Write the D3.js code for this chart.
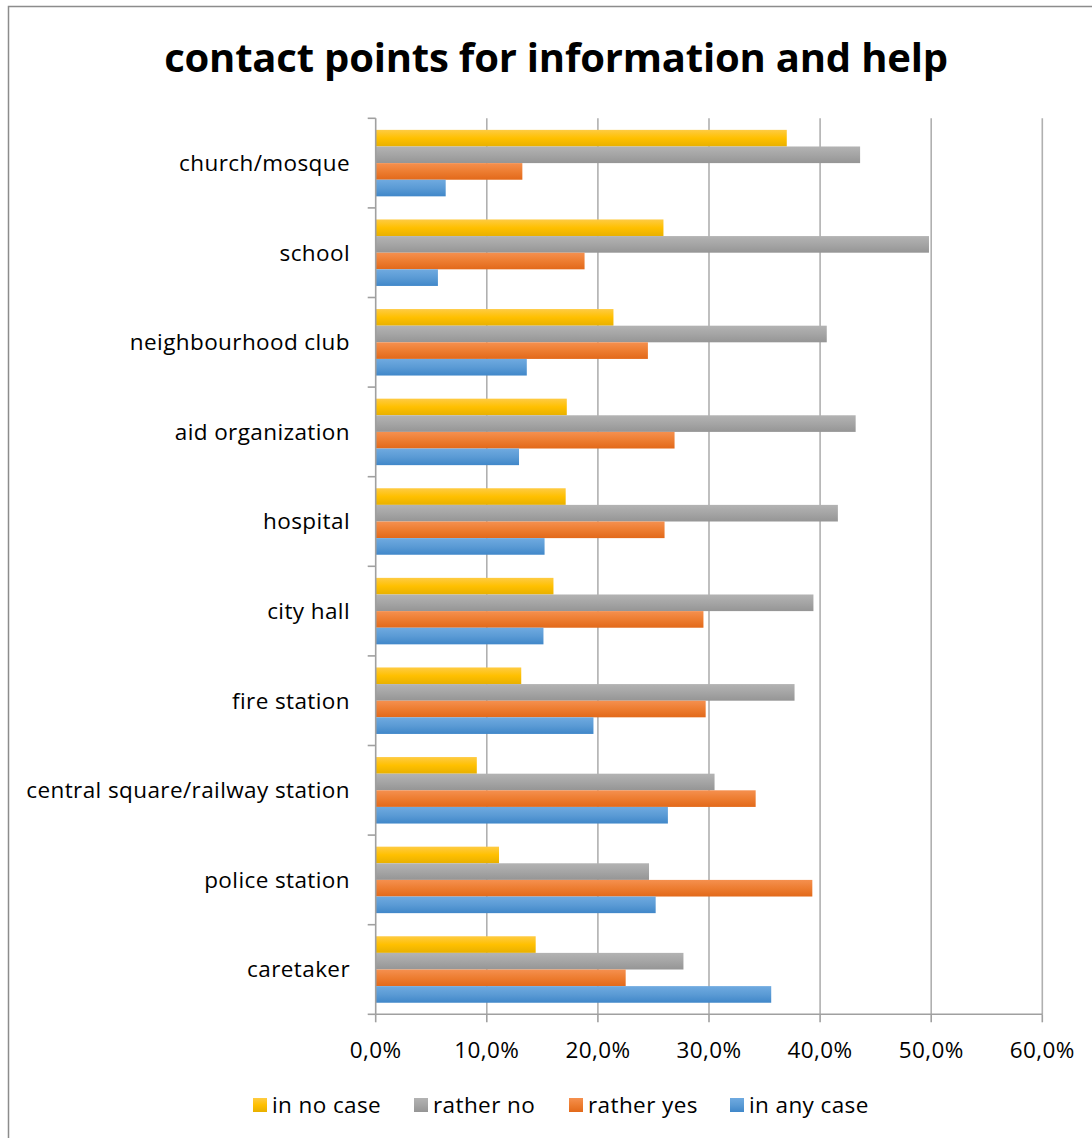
<!DOCTYPE html>
<html>
<head>
<meta charset="utf-8">
<script src="https://cdn.jsdelivr.net/npm/d3@7"></script>
<style>
  html, body { margin: 0; padding: 0; background: #fff; }
  svg { display: block; }
  text { font-family: "Open Sans", sans-serif; fill: #000; }
</style>
</head>
<body>
<svg id="chart" width="1092" height="1138"></svg>
<script>
// ---------- data ----------
const categories = [
  "church/mosque", "school", "neighbourhood club", "aid organization", "hospital",
  "city hall", "fire station", "central square/railway station", "police station", "caretaker"
];
const seriesNames = ["in no case", "rather no", "rather yes", "in any case"];
const inNoCase   = [0.370, 0.259, 0.214, 0.172, 0.171, 0.160, 0.131, 0.091, 0.111, 0.144];
const ratherNo   = [0.436, 0.498, 0.406, 0.432, 0.416, 0.394, 0.377, 0.305, 0.246, 0.277];
const ratherYes  = [0.132, 0.188, 0.245, 0.269, 0.260, 0.295, 0.297, 0.342, 0.393, 0.225];
const inAnyCase  = [0.063, 0.056, 0.136, 0.129, 0.152, 0.151, 0.196, 0.263, 0.252, 0.356];
const xTicks = [0, 0.1, 0.2, 0.3, 0.4, 0.5, 0.6];
const title = "contact points for information and help";

const seriesValues = [inNoCase, ratherNo, ratherYes, inAnyCase];
const seriesColors = [
  ["#FECB43", "#FFC000", "#E8B000"],
  ["#B3B3B3", "#A5A5A5", "#959595"],
  ["#F5904F", "#ED7D31", "#E2691A"],
  ["#6FAAE0", "#5B9BD5", "#4087C9"]
];

// ---------- layout ----------
const svg = d3.select("#chart");
const W = 1092, H = 1138;
const plot = { left: 375.7, right: 1042.3, top: 118.3, bottom: 1014.3 };
const labelSize = 22.5, labelSpacing = 0.4;

// chart border (left & top visible)
svg.append("rect")
  .attr("x", 8.5).attr("y", 6.5)
  .attr("width", W + 20).attr("height", H + 20)
  .attr("fill", "#fff").attr("stroke", "#8c8c8c").attr("stroke-width", 1.5);

// gradients
const defs = svg.append("defs");
seriesColors.forEach((c, i) => {
  const g = defs.append("linearGradient").attr("id", "grad" + i)
    .attr("x1", 0).attr("y1", 0).attr("x2", 0).attr("y2", 1);
  g.append("stop").attr("offset", "0%").attr("stop-color", c[0]);
  g.append("stop").attr("offset", "50%").attr("stop-color", c[1]);
  g.append("stop").attr("offset", "100%").attr("stop-color", c[2]);
});

const x = d3.scaleLinear().domain([0, 0.6]).range([plot.left, plot.right]);
const y = d3.scaleBand().domain(categories).range([plot.top, plot.bottom])
  .paddingInner(0.258).paddingOuter(0.129);
const ySub = d3.scaleBand().domain(seriesNames).range([0, y.bandwidth()]).padding(0);

// gridlines
svg.append("g").selectAll("line").data(xTicks.slice(1)).join("line")
  .attr("x1", d => x(d)).attr("x2", d => x(d))
  .attr("y1", plot.top).attr("y2", plot.bottom)
  .attr("stroke", "#b0b0b0").attr("stroke-width", 1.6);

// bars
const rows = [];
categories.forEach((cat, ci) => {
  seriesNames.forEach((s, si) => rows.push({ cat, s, si, v: seriesValues[si][ci] }));
});
svg.append("g").selectAll("rect").data(rows).join("rect")
  .attr("x", x(0))
  .attr("y", d => y(d.cat) + ySub(d.s))
  .attr("width", d => x(d.v) - x(0))
  .attr("height", ySub.bandwidth())
  .attr("fill", d => `url(#grad${d.si})`);

// y axis
const yAxisG = svg.append("g");
yAxisG.append("line")
  .attr("x1", x(0)).attr("x2", x(0)).attr("y1", plot.top).attr("y2", plot.bottom)
  .attr("stroke", "#a0a0a0").attr("stroke-width", 1.6);
const step = y.step();
const boundaries = d3.range(categories.length + 1).map(i => plot.top + i * step);
yAxisG.selectAll("line.tick").data(boundaries).join("line").attr("class", "tick")
  .attr("x1", x(0) - 8).attr("x2", x(0)).attr("y1", d => d).attr("y2", d => d)
  .attr("stroke", "#a0a0a0").attr("stroke-width", 1.6);
yAxisG.selectAll("text").data(categories).join("text")
  .attr("x", 350).attr("y", d => y(d) + y.bandwidth() / 2)
  .attr("dy", "0.35em").attr("text-anchor", "end")
  .attr("font-size", labelSize).attr("letter-spacing", labelSpacing).text(d => d);

// x axis
const fmt = d => d3.format(".1f")(d * 100).replace(".", ",") + "%";
const xAxisG = svg.append("g");
xAxisG.append("line")
  .attr("x1", plot.left).attr("x2", plot.right).attr("y1", plot.bottom).attr("y2", plot.bottom)
  .attr("stroke", "#a0a0a0").attr("stroke-width", 1.6);
xAxisG.selectAll("line.tick").data(xTicks).join("line").attr("class", "tick")
  .attr("x1", d => x(d)).attr("x2", d => x(d)).attr("y1", plot.bottom).attr("y2", plot.bottom + 8)
  .attr("stroke", "#a0a0a0").attr("stroke-width", 1.6);
xAxisG.selectAll("text").data(xTicks).join("text")
  .attr("x", d => x(d)).attr("y", 1050).attr("dy", "0.35em")
  .attr("text-anchor", "middle").attr("font-size", labelSize).attr("letter-spacing", labelSpacing)
  .text(fmt);

// title
svg.append("text").attr("x", 556).attr("y", 58).attr("dy", "0.35em")
  .attr("text-anchor", "middle").attr("font-size", 40).attr("font-weight", "bold")
  .attr("letter-spacing", -0.2)
  .text(title);

// legend
const legendX = [253, 414, 569, 730];
const lg = svg.append("g");
seriesNames.forEach((s, i) => {
  lg.append("rect").attr("x", legendX[i]).attr("y", 1098).attr("width", 14).attr("height", 14)
    .attr("fill", `url(#grad${i})`);
  lg.append("text").attr("x", legendX[i] + 19).attr("y", 1105).attr("dy", "0.35em")
    .attr("font-size", labelSize).attr("letter-spacing", labelSpacing).text(s);
});
</script>
</body>
</html>
